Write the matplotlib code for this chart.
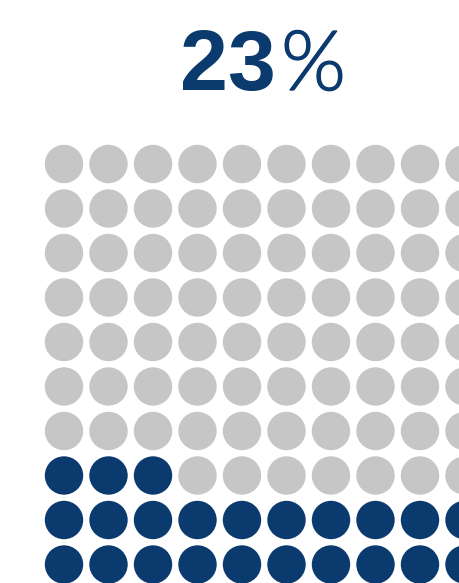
import matplotlib
matplotlib.use("Agg")
import matplotlib.pyplot as plt
import matplotlib.patheffects as pe
from matplotlib.patches import Circle

percent = 23
n_rows = 10
n_cols = 10
value_label = "23"
unit_label = "%"
dark = "#0a3a6e"
light = "#c6c6c6"

W, H = 460, 583
fig = plt.figure(figsize=(W / 100, H / 100), dpi=100)
ax = fig.add_axes([0, 0, 1, 1])
ax.set_axis_off()

# grid units: 1 unit = 44.5 px
step = 44.5
ax.set_xlim(-64 / step, (W - 64) / step)
ax.set_ylim((H - 164) / step, -164 / step)

r = 19.2 / step
count = 0
for row in range(n_rows - 1, -1, -1):
    for col in range(n_cols):
        color = dark if count < percent else light
        ax.add_patch(Circle((col, row), r, facecolor=color, edgecolor="none"))
        count += 1

fig.text(180 / W, 1 - 90 / H, value_label, fontsize=62, fontweight="bold",
         family="Liberation Sans", color=dark, ha="left", va="baseline")
fig.text(281 / W, 1 - 90 / H, unit_label, fontsize=60, fontweight=300,
         family=["Lato", "Liberation Sans"], color=dark, ha="left", va="baseline",
         path_effects=[pe.withStroke(linewidth=1.0, foreground=dark)])

fig.savefig("out.png", dpi=100)
